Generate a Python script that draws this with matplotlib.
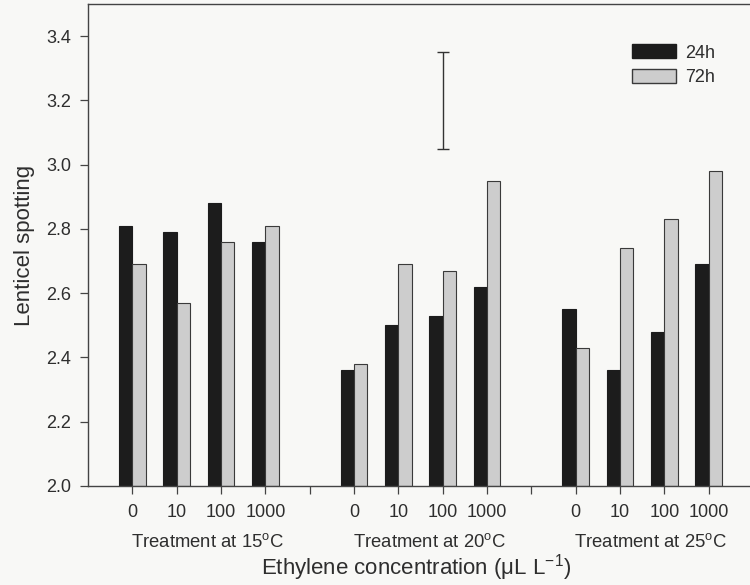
import numpy as np
import matplotlib
matplotlib.use('Agg')
import matplotlib.pyplot as plt
from matplotlib.patches import Patch

plt.rcParams['font.family'] = ['Liberation Sans', 'DejaVu Sans']
plt.rcParams['mathtext.fontset'] = 'custom'
plt.rcParams['mathtext.rm'] = 'Liberation Sans'
plt.rcParams['mathtext.it'] = 'Liberation Sans:italic'

# lenticel spotting scores per temperature, ethylene dose and storage time
temperatures = ['15', '20', '25']
doses = ['0', '10', '100', '1000']
spot_24h = [2.81, 2.79, 2.88, 2.76,
            2.36, 2.50, 2.53, 2.62,
            2.55, 2.36, 2.48, 2.69]
spot_72h = [2.69, 2.57, 2.76, 2.81,
            2.38, 2.69, 2.67, 2.95,
            2.43, 2.74, 2.83, 2.98]
# LSD bar
lsd_low, lsd_high = 3.05, 3.35

text_col = '#2e2e2e'
bg = '#f8f8f6'

fig = plt.figure(figsize=(7.5, 5.85), dpi=100, facecolor=bg)
ax = fig.add_axes([88 / 750, 99 / 585, 665 / 750, 482 / 585], facecolor=bg)

# groups of 4 doses separated by one empty slot
pos = np.array([g * 5 + i for g in range(3) for i in range(4)], dtype=float)
w = 0.3
ax.bar(pos - w / 2, np.array(spot_24h) - 2.0, w, bottom=2.0, color='#1c1c1c',
       edgecolor='#1c1c1c', linewidth=0.8, label='24h')
ax.bar(pos + w / 2, np.array(spot_72h) - 2.0, w, bottom=2.0, color='#cdcdcd',
       edgecolor='#3a3a3a', linewidth=0.8, label='72h')

mid = (lsd_low + lsd_high) / 2
ax.errorbar([7], [mid], yerr=[(lsd_high - lsd_low) / 2], fmt='none',
            ecolor='#333333', elinewidth=1.0, capsize=4, capthick=1.0)

ax.set_xlim(-1, 14)
ax.set_ylim(2.0, 3.5)
ax.set_yticks(np.arange(2.0, 3.41, 0.2))
ax.set_yticklabels(['%.1f' % v for v in np.arange(2.0, 3.41, 0.2)])
ax.set_xticks(pos)
ax.set_xticklabels(doses * 3)
ax.set_xticks([4, 9, 14], minor=True)
ax.tick_params(axis='both', which='both', direction='out', length=6,
               width=0.9, colors='#444444', labelcolor=text_col, labelsize=13)
ax.tick_params(axis='x', which='major', pad=7)
ax.tick_params(axis='y', pad=6)

for side in ['left', 'top', 'bottom']:
    ax.spines[side].set_color('#444444')
    ax.spines[side].set_linewidth(1.0)
ax.spines['right'].set_visible(False)

for g, t in enumerate(temperatures):
    ax.text(g * 5 + 1.7, -0.116, 'Treatment at %s$^{\\mathrm{o}}$C' % t,
            transform=ax.get_xaxis_transform(), ha='center', va='center',
            fontsize=13.3, color=text_col)

ax.text(6.4, -0.17, 'Ethylene concentration (\u03bcL L$^{-1}$)',
        transform=ax.get_xaxis_transform(), ha='center', va='center',
        fontsize=16, color=text_col)
ax.set_ylabel('Lenticel spotting', fontsize=16, color=text_col, labelpad=8)

handles = [Patch(facecolor='#1c1c1c', edgecolor='#1c1c1c', label='24h'),
           Patch(facecolor='#cdcdcd', edgecolor='#3a3a3a', label='72h')]
ax.legend(handles=handles, loc='upper left', bbox_to_anchor=(0.7935, 0.95),
          frameon=False, fontsize=13, handlelength=2.45, handleheight=0.8,
          labelspacing=0.4, handletextpad=0.5, labelcolor=text_col)

fig.savefig('out.png', dpi=100, facecolor=bg)
